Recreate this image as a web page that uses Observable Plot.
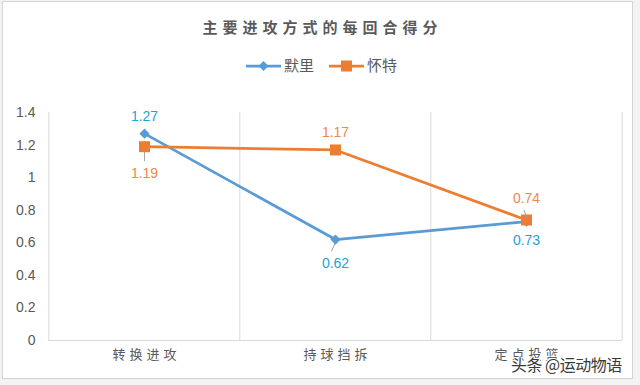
<!DOCTYPE html>
<html>
<head>
<meta charset="utf-8">
<script src="https://cdn.jsdelivr.net/npm/d3@7"></script>
<script src="https://cdn.jsdelivr.net/npm/@observablehq/plot@0.6"></script>
<style>
  html, body { margin: 0; padding: 0; background: #f3f3f3; }
  #wrap { position: relative; width: 640px; height: 385px; overflow: hidden; font-family: "Noto Sans CJK SC", "Liberation Sans", sans-serif; }
  #frame { position: absolute; left: 2px; top: 1px; width: 629px; height: 376px; background: #fff; border: 1px solid #d4d4d4; }
  #title { position: absolute; left: 0; width: 640px; top: 16px; text-align: center; font-size: 15px; font-weight: 700; color: #5a5a5a; letter-spacing: 5px; line-height: 22px; padding-left: 5px; box-sizing: border-box; }
  #legend { position: absolute; left: 0; top: 54px; width: 640px; height: 24px; }
  #chart { position: absolute; left: 0; top: 85px; }
  #chart svg [aria-label="x-axis tick label"] text { letter-spacing: 4px; }
  #wm { position: absolute; left: 511px; top: 352px; font-size: 16px; color: #3a3a3a; white-space: nowrap; letter-spacing: -0.5px;
        text-shadow: 1px 0 #fff, -1px 0 #fff, 0 1px #fff, 0 -1px #fff, 1px 1px #fff, -1px -1px #fff; }
</style>
</head>
<body>
<div id="wrap">
  <div id="frame"></div>
  <div id="title"></div>
  <svg id="legend" width="640" height="24"></svg>
  <div id="chart"></div>
  <div id="wm">头条 @运动物语</div>
</div>
<script>
// ---- data ----
const titleText = "主要进攻方式的每回合得分";
const categories = ["转换进攻", "持球挡拆", "定点投篮"];
const seriesNames = ["默里", "怀特"];
const murray = [1.27, 0.62, 0.73];
const white = [1.19, 1.17, 0.74];
const yTicks = [0, 0.2, 0.4, 0.6, 0.8, 1, 1.2, 1.4];

// ---- styles ----
const blue = "#5B9BD5", orange = "#ED7D31";
const blueLabel = "#21A5D9", orangeLabel = "#EE8A4A";
const grid = "#d9d9d9", textGray = "#595959";

document.getElementById("title").textContent = titleText;

// legend
const lg = d3.select("#legend");
const legItems = [
  {name: seriesNames[0], color: blue, sym: "diamond", x0: 246},
  {name: seriesNames[1], color: orange, sym: "square", x0: 329}
];
legItems.forEach(it => {
  lg.append("line").attr("x1", it.x0).attr("x2", it.x0 + 35).attr("y1", 12).attr("y2", 12)
    .attr("stroke", it.color).attr("stroke-width", 2.75);
  const cx = it.x0 + 17.5;
  if (it.sym === "diamond") {
    lg.append("path").attr("d", `M${cx},${12-5}L${cx+5},12L${cx},${12+5}L${cx-5},12Z`).attr("fill", it.color);
  } else {
    lg.append("rect").attr("x", cx - 5.5).attr("y", 6.5).attr("width", 11).attr("height", 11).attr("fill", it.color);
  }
  lg.append("text").attr("x", it.x0 + 38).attr("y", 12).attr("dy", "0.36em")
    .attr("font-size", 15).attr("fill", textGray).attr("font-family", "Noto Sans CJK SC").text(it.name);
});

const dataM = categories.map((c, i) => ({cat: c, v: murray[i]}));
const dataW = categories.map((c, i) => ({cat: c, v: white[i]}));

const W = 640, H = 300, ML = 48, MR = 18;
const step = (W - ML - MR) / categories.length;

const lineShape = {draw(ctx, l) { ctx.moveTo(0, 0); ctx.lineTo(0, -l); }};

const numFont = "Liberation Sans";
const mOff = [-17, 24, 19];
const wOff = [27, -17.5, -21.5];

const labelMarks = [];
dataM.forEach((d, i) => labelMarks.push(Plot.text([d], {x: "cat", y: "v", text: d => String(d.v), dy: mOff[i], fill: blueLabel, fontSize: 14, fontFamily: numFont})));
dataW.forEach((d, i) => labelMarks.push(Plot.text([d], {x: "cat", y: "v", text: d => String(d.v), dy: wOff[i], fill: orangeLabel, fontSize: 14, fontFamily: numFont})));

const chart = Plot.plot({
  width: W, height: H,
  marginLeft: ML, marginRight: MR, marginTop: 27, marginBottom: 45,
  style: {background: "transparent", color: textGray, fontFamily: numFont},
  x: {type: "point", domain: categories, padding: 0.5, label: null},
  y: {domain: [0, 1.4], label: null},
  marks: [
    Plot.ruleX(categories, {x: d => d, y1: 0, y2: 1.4, dx: -step / 2, stroke: grid}),
    Plot.ruleX([categories[categories.length - 1]], {x: d => d, y1: 0, y2: 1.4, dx: step / 2, stroke: grid}),
    Plot.ruleY([0], {stroke: grid}),
    Plot.axisY({ticks: yTicks, tickSize: 0, tickPadding: 13, tickFormat: d => String(+d.toFixed(1)), fontSize: 14, fill: textGray}),
    Plot.axisX({tickSize: 0, tickPadding: 9, fontSize: 13, fill: textGray, fontFamily: "Noto Sans CJK SC", dx: 2}),
    // leader lines
    Plot.vector([dataW[0]], {x: "cat", y: "v", length: 9, rotate: 180, anchor: "start", dy: 5, shape: lineShape, stroke: "#a6a6a6", strokeWidth: 1}),
    Plot.vector([dataM[1]], {x: "cat", y: "v", length: 9, rotate: 205, anchor: "start", dy: 3, shape: lineShape, stroke: "#a6a6a6", strokeWidth: 1}),
    Plot.line(dataM, {x: "cat", y: "v", stroke: blue, strokeWidth: 2.75}),
    Plot.dot(dataM, {x: "cat", y: "v", symbol: "diamond2", r: 4.6, fill: blue, stroke: "none"}),
    Plot.line(dataW, {x: "cat", y: "v", stroke: orange, strokeWidth: 2.75}),
    Plot.dot(dataW, {x: "cat", y: "v", symbol: "square", r: 6.2, fill: orange, stroke: "none"}),
    Plot.vector([dataW[2]], {x: "cat", y: "v", length: 7, rotate: -20, anchor: "start", dy: -3, shape: lineShape, stroke: "#a6a6a6", strokeWidth: 1}),
    ...labelMarks
  ]
});
document.getElementById("chart").appendChild(chart);
</script>
</body>
</html>
